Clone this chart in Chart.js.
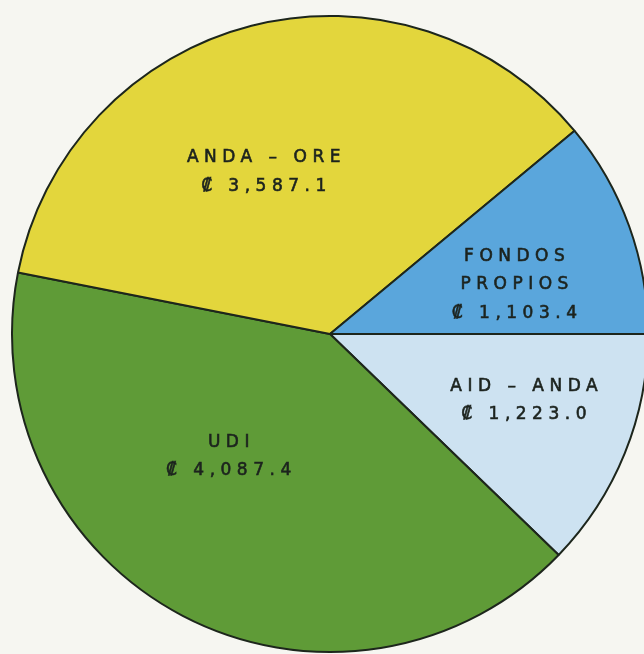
<!DOCTYPE html>
<html>
<head>
<meta charset="utf-8">
<script src="https://cdn.jsdelivr.net/npm/chart.js@4/dist/chart.umd.min.js"></script>
<style>
    html, body { margin: 0; padding: 0; background: #f6f6f1; overflow: hidden; }
    #wrap { position: absolute; left: 0; top: 0; width: 660px; height: 654px; }
</style>
</head>
<body>
<div id="wrap"><canvas id="pieFunds"></canvas></div>
<script>
// data, clockwise from 3 o'clock
const categories = ["AID – ANDA", "UDI", "ANDA – ORE", "FONDOS PROPIOS"];
const amounts = [1223.0, 4087.4, 3587.1, 1103.4];
const labelLines = [["AID – ANDA"], ["UDI"], ["ANDA – ORE"], ["FONDOS", "PROPIOS"]];
const sliceColors = ["#cde2f1", "#5f9b37", "#e3d63c", "#5aa6dc"];

// label placement inside each slice: [fraction of radius, angle tweak in degrees]
const labelPlace = [[0.645, -3], [0.50, 12], [0.55, -8], [0.60, 5]];

function formatColon(v) {
    return "₡ " + v.toLocaleString("en-US", {minimumFractionDigits: 1, maximumFractionDigits: 1});
}

const sliceLabels = {
    id: "sliceLabels",
    afterDatasetsDraw(chart) {
        const ctx = chart.ctx;
        const meta = chart.getDatasetMeta(0);
        const spacing = 5.5;
        ctx.save();
        ctx.fillStyle = "#1c231e";
        ctx.strokeStyle = "#1c231e";
        ctx.lineWidth = 0.6;
        ctx.font = "17px 'DejaVu Sans'";
        ctx.letterSpacing = spacing + "px";
        ctx.textAlign = "center";
        ctx.textBaseline = "middle";
        meta.data.forEach((arc, i) => {
            const p = arc.getProps(["x", "y", "startAngle", "endAngle", "outerRadius"], true);
            const mid = (p.startAngle + p.endAngle) / 2 + labelPlace[i][1] * Math.PI / 180;
            const r = p.outerRadius * labelPlace[i][0];
            const cx = p.x + Math.cos(mid) * r;
            const cy = p.y + Math.sin(mid) * r;
            const lines = labelLines[i].concat([formatColon(amounts[i])]);
            const lh = 28.5;
            const top = cy - (lines.length - 1) * lh / 2;
            lines.forEach((t, k) => {
                ctx.fillText(t, cx + spacing / 2, top + k * lh);
                ctx.strokeText(t, cx + spacing / 2, top + k * lh);
            });
        });
        ctx.restore();
    }
};

const pieChart = new Chart(document.getElementById("pieFunds"), {
    type: "pie",
    data: {
        labels: categories,
        datasets: [{
            data: amounts,
            backgroundColor: sliceColors,
            borderColor: "#1d261c",
            borderWidth: 2
        }]
    },
    options: {
        responsive: true,
        maintainAspectRatio: false,
        animation: false,
        rotation: 90,
        layout: { padding: { left: 11, right: 11, top: 15, bottom: 1 } },
        plugins: {
            legend: { display: false },
            tooltip: { enabled: false }
        }
    },
    plugins: [sliceLabels]
});
</script>
</body>
</html>
